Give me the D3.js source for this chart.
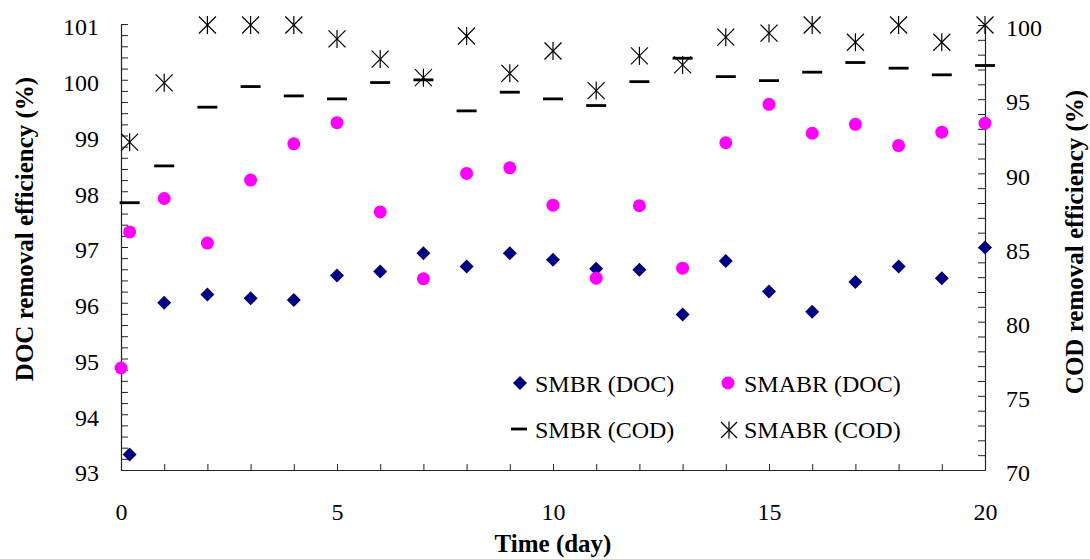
<!DOCTYPE html>
<html>
<head>
<meta charset="utf-8">
<script src="https://cdn.jsdelivr.net/npm/d3@7"></script>
<style>
  html, body { margin: 0; padding: 0; background: #fff; }
  svg { display: block; }
  text { font-family: "Liberation Serif", "Times New Roman", serif; fill: #000; }
</style>
</head>
<body>
<svg id="chart" width="1090" height="559"></svg>
<script>
// ---- data ----
const smbrDays = [0.2, 1, 2, 3, 4, 5, 6, 7, 8, 9, 10, 11, 12, 13, 14, 15, 16, 17, 18, 19, 20];
const smabrDocDays = [0, 0.2, 1, 2, 3, 4, 5, 6, 7, 8, 9, 10, 11, 12, 13, 14, 15, 16, 17, 18, 19, 20];
const smbrDoc = [93.28, 96.00, 96.15, 96.08, 96.05, 96.49, 96.56, 96.89, 96.65, 96.89, 96.77, 96.61, 96.59, 95.79, 96.75, 96.20, 95.84, 96.37, 96.65, 96.44, 96.99];
const smabrDoc = [94.83, 97.27, 97.87, 97.07, 98.20, 98.85, 99.23, 97.63, 96.43, 98.32, 98.42, 97.75, 96.44, 97.74, 96.62, 98.87, 99.56, 99.04, 99.20, 98.82, 99.06, 99.22];
const smbrCod = [88.02, 90.50, 94.46, 95.85, 95.22, 95.02, 96.12, 96.30, 94.21, 95.47, 95.02, 94.57, 96.18, 97.76, 96.52, 96.25, 96.82, 97.47, 97.09, 96.64, 97.27];
const smabrCod = [92.10, 96.10, 100, 100, 100, 99.06, 97.70, 96.45, 99.26, 96.74, 98.25, 95.58, 97.92, 97.31, 99.18, 99.45, 100, 98.84, 100, 98.84, 100];

const xTickLabels = [0, 5, 10, 15, 20];
const leftTickLabels = [93, 94, 95, 96, 97, 98, 99, 100, 101];
const rightTickLabels = [70, 75, 80, 85, 90, 95, 100];
const legendItems = ["SMBR (DOC)", "SMABR (DOC)", "SMBR (COD)", "SMABR (COD)"];
const xTitle = "Time (day)";
const yLeftTitle = "DOC removal efficiency (%)";
const yRightTitle = "COD removal efficiency (%)";

// ---- layout ----
const svg = d3.select("#chart");
const x = d3.scaleLinear().domain([0, 20]).range([121, 985]);
const yL = d3.scaleLinear().domain([93, 101]).range([470, 24]);
const yR = d3.scaleLinear().domain([70, 100]).range([470, 25]);
const axisColor = "#222";

function isInt(v) { return Math.abs(v - Math.round(v)) < 1e-6; }

// bottom axis
const xAxis = d3.axisBottom(x)
  .tickValues(d3.range(0, 21))
  .tickFormat(d => xTickLabels.includes(d) ? d : "")
  .tickSizeInner(-6).tickSizeOuter(0).tickPadding(33);
const gx = svg.append("g").attr("transform", "translate(0,470)").call(xAxis);

// left axis
const leftTicks = d3.range(0, 41).map(i => 93 + i * 0.2);
const yAxisL = d3.axisLeft(yL)
  .tickValues(leftTicks)
  .tickFormat(d => (isInt(d) && leftTickLabels.includes(Math.round(d))) ? Math.round(d) : "")
  .tickSizeInner(-7).tickSizeOuter(0).tickPadding(22);
const gyl = svg.append("g").attr("transform", "translate(121,0)").call(yAxisL);

// right axis
const yAxisR = d3.axisRight(yR)
  .tickValues(d3.range(70, 101))
  .tickFormat(d => rightTickLabels.includes(d) ? d : "")
  .tickSizeInner(-7).tickSizeOuter(0).tickPadding(21);
const gyr = svg.append("g").attr("transform", "translate(985,0)").call(yAxisR);

[gx, gyl, gyr].forEach(g => {
  g.selectAll("path.domain").attr("stroke", axisColor).attr("stroke-width", 1.2);
  g.selectAll(".tick line").attr("stroke", axisColor).attr("stroke-width", 1);
  g.selectAll(".tick text")
    .style("font-family", '"Liberation Serif", "Times New Roman", serif')
    .style("font-size", "24px").attr("fill", "#000");
});
gyl.selectAll(".tick text").attr("dy", "0.45em");
gyr.selectAll(".tick text").attr("dy", "0.45em");
gx.selectAll(".tick text").attr("dy", "0.71em");

// titles
svg.append("text").attr("x", 553).attr("y", 552).attr("text-anchor", "middle")
  .style("font-size", "25px").style("font-weight", "bold").text(xTitle);
svg.append("text").attr("transform", "translate(33,229) rotate(-90)").attr("text-anchor", "middle")
  .style("font-size", "25px").style("font-weight", "bold").text(yLeftTitle);
svg.append("text").attr("transform", "translate(1083,242) rotate(-90)").attr("text-anchor", "middle")
  .style("font-size", "25px").style("font-weight", "bold").text(yRightTitle);

// markers
const diamondPath = "M0,-7L7,0L0,7L-7,0Z";
function drawDiamond(g, cx, cy) {
  g.append("path").attr("d", diamondPath).attr("transform", `translate(${cx},${cy})`).attr("fill", "#000080");
}
function drawCircle(g, cx, cy) {
  g.append("circle").attr("cx", cx).attr("cy", cy).attr("r", 6.5).attr("fill", "#ff00ff");
}
function drawDash(g, cx, cy, w) {
  g.append("line").attr("x1", cx - w / 2).attr("x2", cx + w / 2).attr("y1", cy).attr("y2", cy)
    .attr("stroke", "#000").attr("stroke-width", 2.8);
}
function drawStar(g, cx, cy, s) {
  const gg = g.append("g").attr("transform", `translate(${cx},${cy})`)
    .attr("stroke", "#000").attr("stroke-width", 1.2).attr("fill", "none");
  gg.append("line").attr("x1", -s).attr("y1", -s).attr("x2", s).attr("y2", s);
  gg.append("line").attr("x1", -s).attr("y1", s).attr("x2", s).attr("y2", -s);
  gg.append("line").attr("x1", 0).attr("y1", -s - 0.5).attr("x2", 0).attr("y2", s + 0.5);
}

const plot = svg.append("g");
smbrDoc.forEach((v, i) => drawDiamond(plot, x(smbrDays[i]), yL(v)));
smabrDoc.forEach((v, i) => drawCircle(plot, x(smabrDocDays[i]), yL(v)));
smbrCod.forEach((v, i) => drawDash(plot, x(smbrDays[i]), yR(v), 20));
smabrCod.forEach((v, i) => drawStar(plot, x(smbrDays[i]), yR(v), 8.5));

// legend
const lg = svg.append("g");
drawDiamond(lg, 520, 383);
drawCircle(lg, 728, 383);
drawDash(lg, 519, 429, 16);
drawStar(lg, 729, 430, 8);
const legendPos = [[535, 392], [744, 392], [535, 438], [744, 438]];
legendItems.forEach((t, i) => {
  lg.append("text").attr("x", legendPos[i][0]).attr("y", legendPos[i][1])
    .style("font-size", "24px").text(t);
});
</script>
</body>
</html>
